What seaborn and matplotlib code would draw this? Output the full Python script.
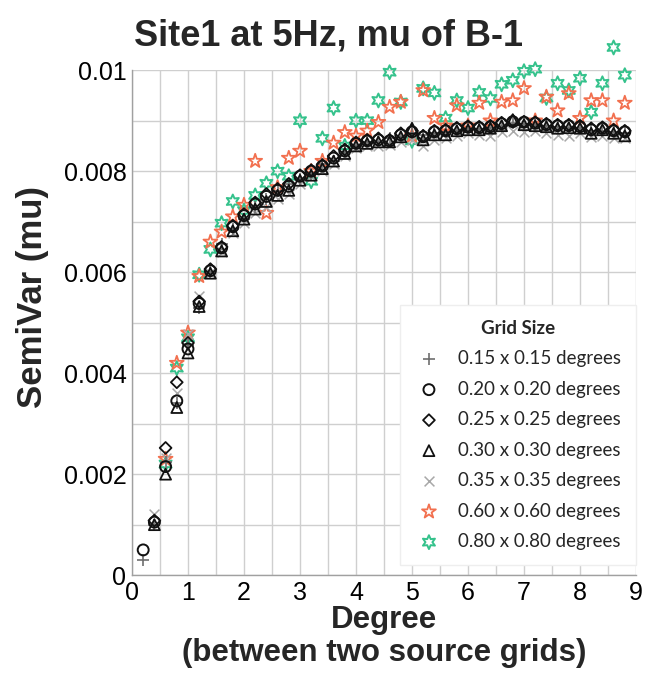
import numpy as np
import pandas as pd
import seaborn as sns
import matplotlib
matplotlib.use("Agg")
import matplotlib.pyplot as plt
from matplotlib.ticker import MultipleLocator

nan = np.nan

# ---------------- data ----------------
distance = [0.2, 0.4, 0.6, 0.8, 1.0, 1.2, 1.4, 1.6, 1.8, 2.0,
            2.2, 2.4, 2.6, 2.8, 3.0, 3.2, 3.4, 3.6, 3.8, 4.0,
            4.2, 4.4, 4.6, 4.8, 5.0, 5.2, 5.4, 5.6, 5.8, 6.0,
            6.2, 6.4, 6.6, 6.8, 7.0, 7.2, 7.4, 7.6, 7.8, 8.0,
            8.2, 8.4, 8.6, 8.8]

grid_labels = ["0.15 x 0.15 degrees", "0.20 x 0.20 degrees", "0.25 x 0.25 degrees",
               "0.30 x 0.30 degrees", "0.35 x 0.35 degrees", "0.60 x 0.60 degrees",
               "0.80 x 0.80 degrees"]

semivar_015 = [0.00030, 0.00100, 0.00225, 0.00340, 0.00455, 0.00530, 0.00600, 0.00655, 0.00685, 0.00705,
               0.00730, 0.00745, 0.00760, 0.00775, 0.00785, 0.00795, 0.00815, 0.00820, 0.00838, 0.00850,
               0.00858, 0.00858, 0.00865, 0.00868, 0.00875, 0.00872, 0.00875, 0.00878, 0.00880, 0.00884,
               0.00884, 0.00885, 0.00890, 0.00895, 0.00893, 0.00892, 0.00890, 0.00888, 0.00886, 0.00885,
               0.00880, 0.00880, 0.00878, 0.00876]
semivar_020 = [0.00050, 0.00105, 0.00215, 0.00345, 0.00448, 0.00538, 0.00603, 0.00648, 0.00690, 0.00712,
               0.00735, 0.00750, 0.00762, 0.00770, 0.00790, 0.00800, 0.00810, 0.00826, 0.00840, 0.00855,
               0.00860, 0.00862, 0.00860, 0.00872, 0.00878, 0.00868, 0.00878, 0.00880, 0.00884, 0.00887,
               0.00886, 0.00888, 0.00894, 0.00898, 0.00897, 0.00895, 0.00892, 0.00890, 0.00890, 0.00888,
               0.00882, 0.00885, 0.00880, 0.00878]
semivar_025 = [nan, 0.00108, 0.00252, 0.00382, 0.00460, 0.00542, 0.00606, 0.00650, 0.00692, 0.00715,
               0.00738, 0.00755, 0.00765, 0.00775, 0.00792, 0.00802, 0.00812, 0.00830, 0.00843, 0.00857,
               0.00862, 0.00865, 0.00862, 0.00875, 0.00880, 0.00870, 0.00880, 0.00882, 0.00886, 0.00889,
               0.00888, 0.00890, 0.00896, 0.00900, 0.00898, 0.00897, 0.00894, 0.00892, 0.00892, 0.00890,
               0.00885, 0.00887, 0.00882, 0.00880]
semivar_030 = [nan, 0.00100, 0.00200, 0.00332, 0.00440, 0.00532, 0.00598, 0.00642, 0.00682, 0.00705,
               0.00725, 0.00740, 0.00752, 0.00762, 0.00782, 0.00792, 0.00805, 0.00820, 0.00835, 0.00850,
               0.00855, 0.00858, 0.00858, 0.00868, 0.00885, 0.00862, 0.00872, 0.00872, 0.00880, 0.00882,
               0.00882, 0.00885, 0.00890, 0.00902, 0.00892, 0.00890, 0.00888, 0.00885, 0.00886, 0.00885,
               0.00875, 0.00882, 0.00875, 0.00870]
semivar_035 = [nan, 0.00122, 0.00232, 0.00360, 0.00478, 0.00552, 0.00598, 0.00640, 0.00678, 0.00698,
               0.00718, 0.00730, 0.00745, 0.00755, 0.00775, 0.00790, 0.00800, 0.00815, 0.00830, 0.00845,
               0.00850, 0.00850, 0.00852, 0.00858, 0.00862, 0.00850, 0.00862, 0.00865, 0.00870, 0.00875,
               0.00872, 0.00870, 0.00878, 0.00880, 0.00878, 0.00880, 0.00875, 0.00872, 0.00870, 0.00875,
               0.00868, 0.00870, 0.00866, 0.00865]
semivar_060 = [nan, nan, 0.00230, 0.00420, 0.00480, 0.00592, 0.00660, 0.00680, 0.00710, 0.00733,
               0.00820, 0.00717, 0.00768, 0.00826, 0.00840, 0.00800, 0.00820, 0.00856, 0.00877, 0.00870,
               0.00880, 0.00897, 0.00927, 0.00937, 0.00870, 0.00960, 0.00905, 0.00890, 0.00930, 0.00890,
               0.00935, 0.00900, 0.00937, 0.00940, 0.00964, 0.00900, 0.00947, 0.00920, 0.00954, 0.00905,
               0.00940, 0.00940, 0.00900, 0.00935]
semivar_080 = [nan, nan, 0.00220, 0.00410, 0.00470, 0.00595, 0.00645, 0.00697, 0.00740, 0.00722,
               0.00752, 0.00776, 0.00800, 0.00790, 0.00900, 0.00780, 0.00865, 0.00925, 0.00850, 0.00900,
               0.00900, 0.00940, 0.00996, 0.00937, 0.00860, 0.00964, 0.00955, 0.00905, 0.00940, 0.00925,
               0.00956, 0.00944, 0.00972, 0.00980, 0.00998, 0.01002, 0.00945, 0.00974, 0.00960, 0.00984,
               0.00917, 0.00974, 0.01045, 0.00990]

x_ticks = [0, 1, 2, 3, 4, 5, 6, 7, 8, 9]
y_ticks = [0, 0.002, 0.004, 0.006, 0.008, 0.01]
y_tick_labels = ["0", "0.002", "0.004", "0.006", "0.008", "0.01"]

series_values = [semivar_015, semivar_020, semivar_025, semivar_030,
                 semivar_035, semivar_060, semivar_080]

frames = []
for lab, vals in zip(grid_labels, series_values):
    frames.append(pd.DataFrame({"Degree": distance, "SemiVar": vals, "Grid": lab}))
df = pd.concat(frames, ignore_index=True).dropna()

# ---------------- style ----------------
sns.set_theme(style="white")
plt.rcParams["font.family"] = ["Liberation Sans", "DejaVu Sans"]

styles = {
    "0.15 x 0.15 degrees": dict(marker="+", color="#6e6e6e", s=70, lw=1.2, fill=False),
    "0.20 x 0.20 degrees": dict(marker="o", color="#111111", s=62, lw=1.4, fill=True),
    "0.25 x 0.25 degrees": dict(marker="D", color="#111111", s=36, lw=1.3, fill=True),
    "0.30 x 0.30 degrees": dict(marker="^", color="#111111", s=62, lw=1.3, fill=True),
    "0.35 x 0.35 degrees": dict(marker="x", color="#a8a8a8", s=50, lw=1.1, fill=False),
    "0.60 x 0.60 degrees": dict(marker="*", color="#f2704f", s=110, lw=1.3, fill=True),
    "0.80 x 0.80 degrees": dict(marker=(6, 1, 0), color="#35c28c", s=100, lw=1.4, fill=True),
}

fig = plt.figure(figsize=(6.47, 6.88), dpi=100)
ax = fig.add_axes([0.204, 0.164, 0.779, 0.734])

draw_order = ["0.80 x 0.80 degrees", "0.60 x 0.60 degrees", "0.35 x 0.35 degrees",
              "0.15 x 0.15 degrees", "0.30 x 0.30 degrees", "0.25 x 0.25 degrees",
              "0.20 x 0.20 degrees"]
handles = {}
for lab in draw_order:
    st = styles[lab]
    sub = df[df["Grid"] == lab]
    kw = dict(marker=st["marker"], s=st["s"], linewidth=st["lw"], label=lab,
              ax=ax, clip_on=False, legend=False)
    if st["fill"]:
        kw.update(facecolor="none", edgecolor=st["color"])
    else:
        kw.update(color=st["color"])
    sns.scatterplot(data=sub, x="Degree", y="SemiVar", **kw)
    handles[lab] = ax.collections[-1]

ax.set_xlim(0, 9)
ax.set_ylim(0, 0.01)
ax.set_xticks(x_ticks)
ax.set_xticklabels([str(t) for t in x_ticks])
ax.set_yticks(y_ticks)
ax.set_yticklabels(y_tick_labels)
ax.xaxis.set_minor_locator(MultipleLocator(0.5))
ax.yaxis.set_minor_locator(MultipleLocator(0.001))
ax.grid(True, which="both", color="#cfcfcf", linewidth=1.0)
ax.set_axisbelow(True)
ax.tick_params(axis="both", which="both", length=0, labelsize=18, pad=4, colors="black")
for side in ["top", "right"]:
    ax.spines[side].set_visible(False)
for side in ["left", "bottom"]:
    ax.spines[side].set_color("#a0a0a0")
    ax.spines[side].set_linewidth(1.0)

ax.set_title("Site1 at 5Hz, mu of B-1", fontsize=26, fontweight="bold", pad=18, x=0.39)
ax.set_xlabel("Degree\n(between two source grids)", fontsize=22.5, fontweight="bold",
              linespacing=1.15, labelpad=0)
ax.set_ylabel("SemiVar (mu)", fontsize=25, fontweight="bold")
ax.yaxis.set_label_coords(-0.165, 0.55)

leg = ax.legend([handles[l] for l in grid_labels], grid_labels,
                title="Grid Size", loc="lower right", bbox_to_anchor=(1.0, 0.02),
                frameon=True, fancybox=False, framealpha=1.0, edgecolor="#eeeeee",
                prop={"family": ["Lato", "DejaVu Sans"], "size": 13.5},
                title_fontproperties={"family": ["Lato", "DejaVu Sans"], "size": 13.5,
                                      "weight": "bold"},
                handletextpad=0.8, labelspacing=0.72, borderpad=0.8, handlelength=1.5,
                borderaxespad=0.0)
leg.get_frame().set_linewidth(1.0)

fig.savefig("out.png", dpi=100)
